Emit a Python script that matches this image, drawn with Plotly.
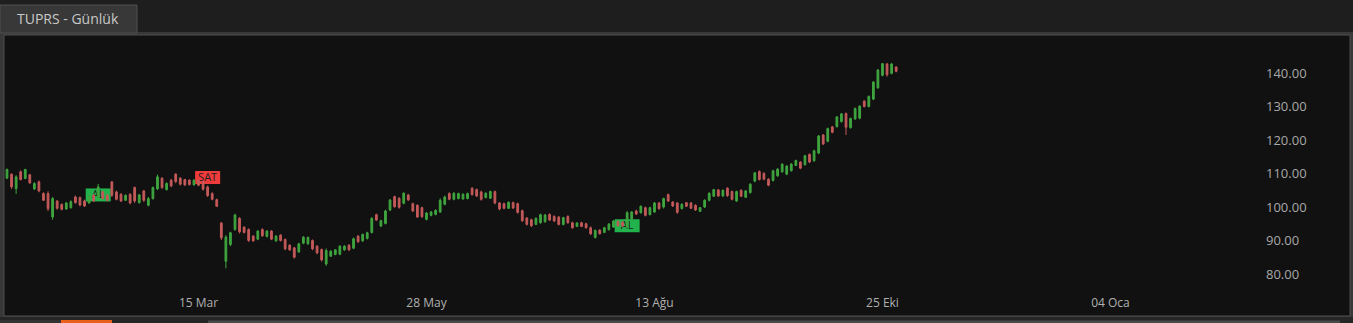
import plotly.graph_objects as go

# ---------------- data ----------------
opens = [108.6,109.8,105.5,110.5,108.5,109.6,105.4,107.5,104.0,104.0,97.0,101.8,100.8,99.4,99.8,103.0,102.8,101.8,101.2,103.5,
         102.8,104.5,103.5,107.5,104.5,103.8,102.0,103.8,105.8,101.3,104.8,100.5,102.5,105.4,108.6,105.2,108.0,109.8,108.6,108.2,
         108.0,106.6,108.0,107.5,106.0,104.0,102.2,95.2,83.8,88.8,93.3,96.6,94.0,93.3,91.3,90.4,93.3,91.2,92.8,89.9,
         91.6,90.3,88.6,87.8,86.6,89.2,89.0,90.0,88.3,87.3,83.0,85.3,85.8,85.9,87.2,88.6,87.7,91.3,89.9,90.6,
         92.4,97.7,94.3,95.1,99.1,103.1,102.6,101.1,103.6,101.0,100.5,99.8,96.3,97.5,97.8,98.5,100.8,104.0,102.3,102.5,
         102.4,102.5,105.6,105.2,104.5,102.8,102.6,104.6,101.2,101.0,99.6,101.3,101.0,98.9,96.7,96.2,94.8,95.3,95.6,97.8,
         97.2,97.0,94.8,97.2,95.3,94.2,95.3,95.0,93.8,90.9,93.1,92.4,93.2,94.0,95.7,95.5,94.0,96.4,98.8,98.3,
         99.8,97.7,98.5,101.2,100.0,103.7,101.5,101.2,99.5,101.3,101.2,100.5,98.7,100.0,102.0,103.2,105.1,103.3,105.6,104.6,
         101.8,105.0,102.9,104.3,107.7,110.6,110.0,108.3,107.9,109.3,110.5,109.8,110.8,112.4,113.4,112.6,115.7,113.8,116.1,121.5,
         119.6,123.9,124.0,125.5,127.9,123.7,126.3,126.5,131.6,130.0,132.2,135.6,139.3,142.7,139.9,141.8]
highs = [111.5,110.0,109.5,110.9,111.4,109.9,107.4,107.9,104.4,104.7,103.0,102.0,101.0,101.5,102.0,103.4,103.1,102.2,103.4,104.0,
         106.9,104.9,103.9,107.7,104.9,104.1,103.7,104.1,106.1,103.9,105.1,103.0,106.1,109.7,108.9,107.4,108.4,110.1,108.9,108.4,
         108.3,108.3,108.3,107.9,106.4,104.4,102.5,95.5,91.6,92.6,98.0,97.0,94.2,93.6,91.6,93.1,93.6,93.1,93.1,91.6,
         91.9,90.6,88.9,88.1,89.3,91.3,91.2,90.3,88.6,87.6,87.6,87.1,87.4,88.6,88.6,88.9,90.9,91.6,92.1,92.6,
         97.0,98.0,96.2,99.2,102.4,103.4,102.9,104.4,103.9,101.3,100.8,100.1,98.5,98.8,99.3,102.6,103.4,104.4,104.4,104.3,
         104.1,104.3,105.9,105.5,104.9,104.4,104.9,104.9,101.5,101.3,101.7,101.6,101.3,99.2,97.0,96.5,96.9,98.0,97.9,98.1,
         97.5,97.3,97.1,97.5,95.6,95.5,95.6,95.3,94.2,93.3,93.4,94.1,95.2,96.1,96.0,95.8,98.8,98.8,99.2,100.5,
         100.1,100.1,101.5,101.5,102.8,104.0,101.7,101.5,101.1,101.5,101.5,100.8,100.0,102.3,104.4,105.4,105.4,105.2,105.9,104.9,
         104.9,105.3,105.1,107.1,110.4,110.9,110.4,108.6,111.1,111.6,113.0,112.5,113.1,114.1,113.7,115.6,116.0,117.1,121.5,121.8,
         123.7,124.2,127.2,128.0,128.2,126.7,129.7,130.4,131.9,133.3,137.6,141.2,143.0,143.0,143.0,142.0]
lows = [108.4,105.4,103.9,107.9,108.3,106.9,105.1,104.4,101.8,98.8,96.2,99.2,99.0,99.2,99.5,101.0,100.2,100.0,101.0,101.5,
        102.5,102.2,101.7,103.0,102.0,101.5,101.8,100.8,101.2,101.0,101.5,100.2,102.2,105.1,105.4,104.9,105.9,107.1,106.4,106.3,
        106.4,106.4,106.2,104.9,103.0,102.0,100.0,90.1,81.7,88.3,92.9,92.1,92.1,89.6,89.6,90.1,91.1,90.9,90.1,89.6,
        89.7,87.1,86.9,84.6,86.3,88.9,88.7,87.1,85.9,83.7,82.4,85.1,85.6,85.6,86.9,86.9,87.4,89.3,89.6,90.3,
        92.1,95.8,94.0,94.8,98.8,99.8,99.5,100.8,101.8,98.5,96.8,96.8,96.0,97.2,97.5,98.2,100.5,102.0,102.0,102.3,
        102.2,102.3,103.4,103.0,101.9,102.6,102.4,100.8,99.0,99.3,99.4,99.4,98.0,95.5,94.5,94.0,94.6,95.0,95.3,95.8,
        95.5,94.5,94.5,95.0,93.5,94.0,94.0,93.5,91.6,90.6,91.8,92.2,93.0,93.8,94.1,94.0,93.5,96.2,97.6,98.0,
        97.2,97.5,98.2,99.2,99.5,101.5,100.0,98.0,99.3,100.0,99.4,98.8,98.5,99.7,101.7,103.0,103.0,103.0,103.0,102.0,
        101.5,103.0,102.7,104.0,107.4,107.9,108.0,106.2,107.6,109.0,110.2,109.5,110.6,112.2,111.3,112.4,113.1,113.5,115.8,118.5,
        119.3,122.0,123.7,125.2,121.5,123.4,126.0,126.2,129.7,129.7,131.9,135.3,139.0,138.9,139.6,140.2]
closes = [111.2,106.0,109.0,108.2,111.2,107.2,107.0,104.8,102.0,99.5,102.5,99.6,99.3,101.2,101.6,101.3,100.6,100.3,103.2,101.8,
          106.0,102.5,102.0,103.5,102.3,101.8,103.5,101.2,101.8,103.6,102.0,102.5,105.8,109.0,105.8,107.0,106.3,107.6,106.8,106.6,
          106.7,108.0,106.5,105.3,103.4,102.3,100.2,90.8,91.0,92.3,97.6,92.6,92.4,90.0,89.9,92.8,91.4,92.8,90.4,91.3,
          90.0,87.5,87.2,85.0,89.0,91.0,90.9,87.5,86.3,84.2,87.0,86.8,87.2,88.3,88.3,87.2,90.5,89.6,91.8,92.3,
          96.6,96.1,95.9,98.8,102.1,100.1,99.9,104.1,102.1,98.8,97.0,97.1,98.2,98.5,99.0,102.0,103.0,102.3,104.1,104.0,
          103.8,104.0,103.7,103.3,102.3,104.1,104.6,101.2,99.4,99.6,101.4,99.7,98.4,95.9,94.8,94.4,96.6,97.7,97.6,96.1,
          95.8,94.8,96.8,95.3,93.8,95.2,94.2,93.8,92.0,93.0,92.0,93.8,94.9,95.8,94.4,94.3,98.3,98.5,97.9,100.2,
          97.5,99.8,101.2,99.5,102.5,101.8,100.3,98.4,100.8,100.2,99.6,99.1,99.8,102.0,104.1,105.2,103.3,105.0,103.4,102.3,
          104.6,103.2,104.8,106.8,110.2,108.2,108.3,106.5,110.8,111.3,112.8,112.2,112.8,113.9,111.6,115.3,113.4,116.8,121.2,118.8,
          123.4,122.3,126.9,127.8,123.8,126.4,129.4,130.1,130.0,133.0,137.3,140.9,142.8,139.5,142.7,140.5]
bar_index = list(range(len(closes)))

tick_index = [42, 92, 142, 192, 242]
tick_labels = ["15 Mar", "28 May", "13 Ağu", "25 Eki", "04 Oca"]
price_ticks = [80, 90, 100, 110, 120, 130, 140]

signal_index = [20, 44, 136]
signal_price = [103.6, 108.8, 94.4]
signal_text = ["AL", "SAT", "AL"]

# ---------------- layout geometry ----------------
W, H = 1353, 323
L, R, T, B = 5, 103, 37, 33
PW, PH = W - L - R, H - T - B
X_RANGE = [-0.44, 272.6]
Y_RANGE = [75.22, 150.75]
X_UNITS_PER_PX = (X_RANGE[1] - X_RANGE[0]) / PW
Y_UNITS_PER_PX = (Y_RANGE[1] - Y_RANGE[0]) / PH


def px(x, y):
    return (x - L) / PW, (H - B - y) / PH


def rect(x0, y0, x1, y1, fill, line=None, lw=0):
    a, b = px(x0, y0)
    c, d = px(x1, y1)
    return dict(type="rect", xref="paper", yref="paper", x0=a, y0=d, x1=c, y1=b,
                fillcolor=fill, line=dict(color=line or fill, width=lw), layer="below")


GREEN = "#3fa53f"
RED = "#c45a5a"

fig = go.Figure()
fig.add_trace(go.Candlestick(
    x=bar_index, open=opens, high=highs, low=lows, close=closes,
    increasing=dict(line=dict(color=GREEN, width=1), fillcolor=GREEN),
    decreasing=dict(line=dict(color=RED, width=1), fillcolor=RED),
    whiskerwidth=0, hoverinfo="skip", showlegend=False,
))

shapes = [
    rect(0, 32, W, H, "#383838"),
    rect(4, 35, 1350, 316, "#111111", "#4e4e4e", 1),
    rect(0, 317, W, H, "#262626"),
    rect(0, 320, 61, H, "#333333"),
    rect(61, 320, 112, H, "#e8601c"),
    rect(208, 320.5, 1340, H, "#484848"),
    rect(0, 5, 137, 33, "#383838", "#4e4e4e", 1),
]

sig_colors = {"AL": "#22b34c", "SAT": "#ee3b3b"}
BOX_W, BOX_H = 25, 13
for i, p, t in zip(signal_index, signal_price, signal_text):
    hw = BOX_W / 2 * X_UNITS_PER_PX
    hh = BOX_H / 2 * Y_UNITS_PER_PX
    shapes.append(dict(
        type="rect", xref="x", yref="y",
        x0=i - hw, x1=i + hw, y0=p - hh, y1=p + hh,
        fillcolor=sig_colors[t], line=dict(width=0), layer="below",
        label=dict(text=t, font=dict(family="Open Sans", size=11, color="#1e1e1e"),
                   textposition="middle center"),
    ))

tx, ty = px(68, 19)
fig.update_layout(
    width=W, height=H,
    margin=dict(l=L, r=R, t=T, b=B, pad=0),
    paper_bgcolor="#1e1e1e", plot_bgcolor="#111111",
    shapes=shapes,
    annotations=[dict(xref="paper", yref="paper", x=tx, y=ty, text="TUPRS - Günlük",
                      showarrow=False, xanchor="center", yanchor="middle",
                      font=dict(family="Open Sans", size=14, color="#c8c8c8"))],
    font=dict(family="Open Sans", color="#aaaaaa"),
    xaxis=dict(range=X_RANGE, tickmode="array", tickvals=tick_index, ticktext=tick_labels,
               showgrid=False, zeroline=False, showline=False, ticks="",
               tickfont=dict(size=12, color="#b0b0b0"), rangeslider=dict(visible=False),
               ticklabelstandoff=4, fixedrange=True),
    yaxis=dict(side="right", range=Y_RANGE, tickmode="array", tickvals=price_ticks,
               ticktext=[f"{v:.2f}" for v in price_ticks],
               showgrid=False, zeroline=False, showline=False, ticks="",
               tickfont=dict(size=13, color="#a8a8a8"), ticklabelstandoff=15, fixedrange=True),
    boxgap=0.45,
    hovermode=False,
)

fig.write_html("out.html")
